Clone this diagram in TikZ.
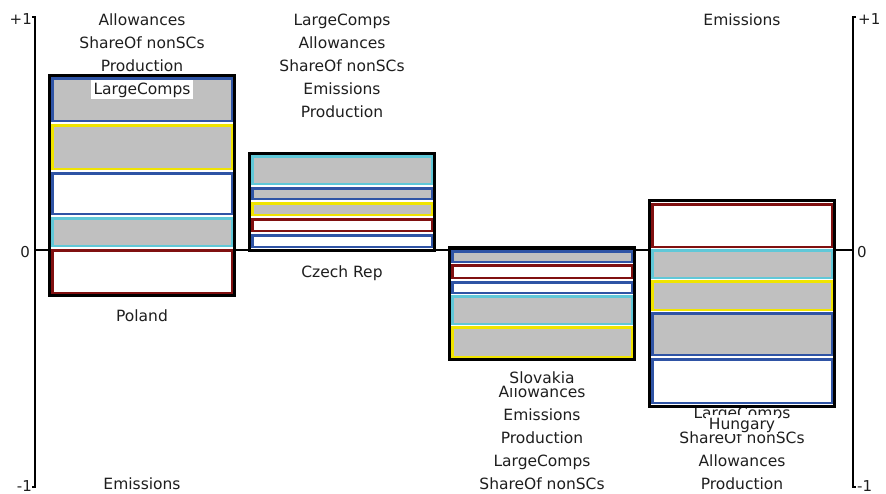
\documentclass[tikz,border=0pt]{standalone}
\usepackage{fontspec}
\setmainfont{DejaVu Sans}
\usepackage{tikz}
\usetikzlibrary{positioning}
\definecolor{barblue}{RGB}{47,84,165}
\definecolor{barred}{RGB}{128,16,16}
\definecolor{baryellow}{RGB}{240,228,0}
\definecolor{barcyan}{RGB}{96,200,216}
\definecolor{barfill}{RGB}{192,192,192}
\definecolor{txtgray}{RGB}{30,30,30}
\tikzset{
lbl/.style={
  anchor=base,
  inner sep=0pt,
  text=txtgray,
  font=\fontsize{15.5}{18}\selectfont
  },
tag/.style={
  lbl,
  fill=white,
  inner xsep=3pt,
  inner ysep=1.5pt,
  text height=13pt,
  text depth=3pt
  },
tick/.style={lbl, font=\fontsize{15}{18}\selectfont},
axis/.style={line width=1.3pt},
mybox/.style={draw=black, line width=3pt},
bargray/.style={draw=#1, line width=2.5pt, fill=barfill},
barwhite/.style={draw=#1, line width=2.5pt, fill=white}
}

\begin{document}
\begin{tikzpicture}[x=1pt, y=-1pt]
  \useasboundingbox (0,0) rectangle (886,493);

  \draw[axis] (32,17) -- (35,17) -- (35,487) -- (32,487);
  \draw[axis] (856,17) -- (853,17) -- (853,487) -- (856,487);
  \draw[axis] (35,250) -- (853,250);
  \node[tick,anchor=base east] (l-plus) at (32,24) {+1};
  \node[tick,anchor=base east] (l-zero) at (30,257) {0};
  \node[tick,anchor=base east] (l-minus) at (32,491) {-1};
  \node[tick,anchor=base west] (r-plus) at (858,24) {+1};
  \node[tick,anchor=base west] (r-zero) at (857,257) {0};
  \node[tick,anchor=base west] (r-minus) at (857,491) {-1};

  \node[lbl] (pl-allow) at (142,25) {Allowances};
  \node[lbl] (pl-share) at (142,48) {ShareOf nonSCs};
  \node[lbl] (pl-prod)  at (142,71) {Production};
  \node[lbl] (pl-emis)  at (142,489) {Emissions};

  \node[lbl] (cz-large) at (342,25) {LargeComps};
  \node[lbl] (cz-allow) at (342,48) {Allowances};
  \node[lbl] (cz-share) at (342,71) {ShareOf nonSCs};
  \node[lbl] (cz-emis)  at (342,94) {Emissions};
  \node[lbl] (cz-prod)  at (342,117) {Production};

  \node[lbl] (sk-allow) at (542,397) {Allowances};
  \node[lbl] (sk-emis)  at (542,420) {Emissions};
  \node[lbl] (sk-prod)  at (542,443) {Production};
  \node[lbl] (sk-large) at (542,466) {LargeComps};
  \node[lbl] (sk-share) at (542,489) {ShareOf nonSCs};

  \node[lbl] (hu-emis)  at (742,25) {Emissions};
  \node[lbl] (hu-large) at (742,418) {LargeComps};
  \node[lbl] (hu-share) at (742,443) {ShareOf nonSCs};
  \node[lbl] (hu-allow) at (742,466) {Allowances};
  \node[lbl] (hu-prod)  at (742,489) {Production};

  \draw[bargray=barblue]    (52.25,78.25)  rectangle (231.75,120.75);
  \draw[bargray=baryellow]  (52.25,125.25) rectangle (231.75,168.75);
  \draw[barwhite=barblue]   (52.25,173.25) rectangle (231.75,213.75);
  \draw[bargray=barcyan]    (52.25,218.25) rectangle (231.75,245.75);
  \draw[barwhite=barred]    (52.25,250.25) rectangle (231.75,292.75);
  \draw[mybox] (49.5,75.5) rectangle (234.5,295.5);

  \draw[bargray=barcyan]    (252.25,156.25) rectangle (431.75,183.75);
  \draw[bargray=barblue]    (252.25,188.25) rectangle (431.75,198.75);
  \draw[bargray=baryellow]  (252.25,203.25) rectangle (431.75,214.75);
  \draw[barwhite=barred]    (252.25,219.25) rectangle (431.75,230.75);
  \draw[barwhite=barblue]   (252.25,235.25) rectangle (431.75,246.75);
  \draw[mybox] (249.5,153.5) rectangle (434.5,250.5);

  \draw[bargray=barblue]    (452.25,251.25) rectangle (631.75,261.75);
  \draw[barwhite=barred]    (452.25,265.25) rectangle (631.75,277.75);
  \draw[barwhite=barblue]   (452.25,282.25) rectangle (631.75,292.75);
  \draw[bargray=barcyan]    (452.25,296.25) rectangle (631.75,323.75);
  \draw[bargray=baryellow]  (452.25,327.25) rectangle (631.75,356.75);
  \draw[mybox] (449.5,247.5) rectangle (634.5,359.5);

  \draw[barwhite=barred]    (652.25,204.25) rectangle (831.75,246.75);
  \draw[bargray=barcyan]    (652.25,250.25) rectangle (831.75,277.75);
  \draw[bargray=baryellow]  (652.25,281.25) rectangle (831.75,309.75);
  \draw[bargray=barblue]    (652.25,313.25) rectangle (831.75,354.75);
  \draw[barwhite=barblue]   (652.25,359.25) rectangle (831.75,402.75);
  \draw[mybox] (649.5,200.5) rectangle (834.5,406.5);

  \node[tag] (pl-large) at (142,94) {LargeComps};
  \node[tag] (pl-name)  at (142,321) {Poland};
  \node[tag] (cz-name)  at (342,277) {Czech Rep};
  \node[tag] (sk-name)  at (542,383) {Slovakia};
  \node[tag] (hu-name)  at (742,429) {Hungary};
\end{tikzpicture}
\end{document}
